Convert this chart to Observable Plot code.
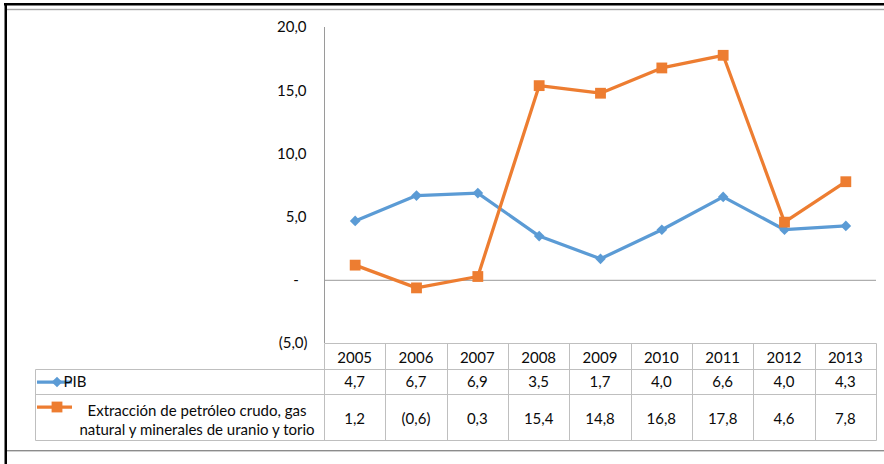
<!DOCTYPE html>
<html>
<head>
<meta charset="utf-8">
<script src="https://cdn.jsdelivr.net/npm/d3@7"></script>
<script src="https://cdn.jsdelivr.net/npm/@observablehq/plot@0.6"></script>
<style>
  html, body { margin: 0; padding: 0; background: #fff; }
  #wrap { position: relative; width: 884px; height: 464px; overflow: hidden; }
  #wrap svg { display: block; }
</style>
</head>
<body>
<div id="wrap"></div>
<script>
// ---- data ----
const years = [2005, 2006, 2007, 2008, 2009, 2010, 2011, 2012, 2013];
const pib = [4.7, 6.7, 6.9, 3.5, 1.7, 4.0, 6.6, 4.0, 4.3];
const extraccion = [1.2, -0.6, 0.3, 15.4, 14.8, 16.8, 17.8, 4.6, 7.8];
const seriesNames = ["PIB", "Extracción de petróleo crudo, gas", "natural y minerales de uranio y torio"];
const yTicks = [-5, 0, 5, 10, 15, 20];

const colPib = "#5B9BD5";
const colExt = "#ED7D31";
const font = "Lato, 'Open Sans', sans-serif";
const fs = 15;

const num = v => Math.abs(v).toFixed(1).replace(".", ",");
const axisFmt = v => v === 0 ? "-\u2007" : v < 0 ? `(${num(v)})` : num(v) + "\u200A";
const tableFmt = v => v < 0 ? `(${num(v)})` : num(v);

const pibData = years.map((year, i) => ({year, value: pib[i]}));
const extData = years.map((year, i) => ({year, value: extraccion[i]}));

const chart = Plot.plot({
  width: 884,
  height: 464,
  marginTop: 27,
  marginBottom: 121,
  marginLeft: 324,
  marginRight: 8,
  style: {fontFamily: font, fontSize: fs + "px", color: "#0a0a0a", background: "transparent", overflow: "visible"},
  x: {type: "linear", domain: [years[0] - 0.5, years[years.length - 1] + 0.5], axis: null},
  y: {domain: [-5, 20], ticks: yTicks, tickFormat: axisFmt, tickSize: 0, tickPadding: 17, label: null},
  marks: [
    Plot.ruleX([years[0] - 0.5], {stroke: "#9A9A9A", strokeWidth: 1}),
    Plot.ruleY([0], {stroke: "#9A9A9A", strokeWidth: 1}),
    Plot.line(pibData, {x: "year", y: "value", stroke: colPib, strokeWidth: 3.25}),
    Plot.dot(pibData, {x: "year", y: "value", symbol: "diamond2", r: 4.8, fill: colPib, stroke: "none"}),
    Plot.line(extData, {x: "year", y: "value", stroke: colExt, strokeWidth: 3.25}),
    Plot.dot(extData, {x: "year", y: "value", symbol: "square", r: 6.1, fill: colExt, stroke: "none"})
  ]
});

document.getElementById("wrap").appendChild(chart);

// ---- data table + legend (aligned to the chart's scales) ----
const svg = d3.select(chart);
const sx = chart.scale("x"), sy = chart.scale("y");
const X = v => sx.apply(v);
const tTop = Math.round(sy.apply(-5)) + 0.5;
const rows = [tTop, 369.5, 394.5, 440.5];
const legendLeft = 35.5;
const xLeft = Math.round(X(years[0] - 0.5)) + 0.5;
const xRight = Math.round(X(years[years.length - 1] + 0.5)) + 0.5;

const grid = svg.append("g").attr("stroke", "#BFBFBF").attr("stroke-width", 1).attr("fill", "none");
grid.append("line").attr("x1", xLeft).attr("x2", xRight).attr("y1", rows[0]).attr("y2", rows[0]);
for (let i = 1; i < rows.length; i++) {
  grid.append("line").attr("x1", legendLeft).attr("x2", xRight).attr("y1", rows[i]).attr("y2", rows[i]);
}
grid.append("line").attr("x1", legendLeft).attr("x2", legendLeft).attr("y1", rows[1]).attr("y2", rows[3]);
const bounds = years.map(y => y - 0.5).concat([years[years.length - 1] + 0.5]);
bounds.forEach(b => {
  const xb = Math.round(X(b)) + 0.5;
  grid.append("line").attr("x1", xb).attr("x2", xb).attr("y1", rows[0]).attr("y2", rows[3]);
});

const txt = svg.append("g").attr("font-family", font).attr("font-size", fs).attr("fill", "#0a0a0a")
  .attr("text-anchor", "middle");
years.forEach((y, i) => {
  txt.append("text").attr("x", X(y)).attr("y", (rows[0] + rows[1]) / 2 + 1).attr("dy", "0.35em").text(String(y));
  txt.append("text").attr("x", X(y)).attr("y", (rows[1] + rows[2]) / 2).attr("dy", "0.35em").text(tableFmt(pib[i]));
  txt.append("text").attr("x", X(y)).attr("y", (rows[2] + rows[3]) / 2 + 1.5).attr("dy", "0.35em").text(tableFmt(extraccion[i]));
});

// legend swatches
const leg = svg.append("g");
const swY1 = (rows[1] + rows[2]) / 2;
const swY2 = rows[2] + 12.5;
leg.append("line").attr("x1", 37).attr("x2", 72).attr("y1", swY1).attr("y2", swY1).attr("stroke", colPib).attr("stroke-width", 3.25);
leg.append("path").attr("transform", `translate(57,${swY1})`).attr("d", d3.symbol(d3.symbolDiamond2, Math.PI * 4.8 * 4.8)()).attr("fill", colPib);
leg.append("line").attr("x1", 37).attr("x2", 72).attr("y1", swY2).attr("y2", swY2).attr("stroke", colExt).attr("stroke-width", 3.25);
leg.append("path").attr("transform", `translate(57,${swY2})`).attr("d", d3.symbol(d3.symbolSquare, Math.PI * 6.1 * 6.1)()).attr("fill", colExt);

const ltxt = svg.append("g").attr("font-family", font).attr("font-size", fs).attr("fill", "#0a0a0a");
ltxt.append("text").attr("x", 75).attr("y", swY1).attr("dy", "0.35em").text(seriesNames[0]);
ltxt.append("text").attr("x", 197).attr("y", 411).attr("dy", "0.35em").attr("text-anchor", "middle").text(seriesNames[1]);
ltxt.append("text").attr("x", 197).attr("y", 430).attr("dy", "0.35em").attr("text-anchor", "middle").text(seriesNames[2]);

// page frame
const fr = svg.append("g");
fr.append("rect").attr("x", 4).attr("y", 3).attr("width", 880).attr("height", 2.5).attr("fill", "#000");
fr.append("rect").attr("x", 4.5).attr("y", 3).attr("width", 2.5).attr("height", 461).attr("fill", "#000");
fr.append("rect").attr("x", 7).attr("y", 8.8).attr("width", 877).attr("height", 1.4).attr("fill", "#A6A6A6");
fr.append("rect").attr("x", 7).attr("y", 450).attr("width", 877).attr("height", 1.4).attr("fill", "#8C8C8C");
</script>
</body>
</html>
